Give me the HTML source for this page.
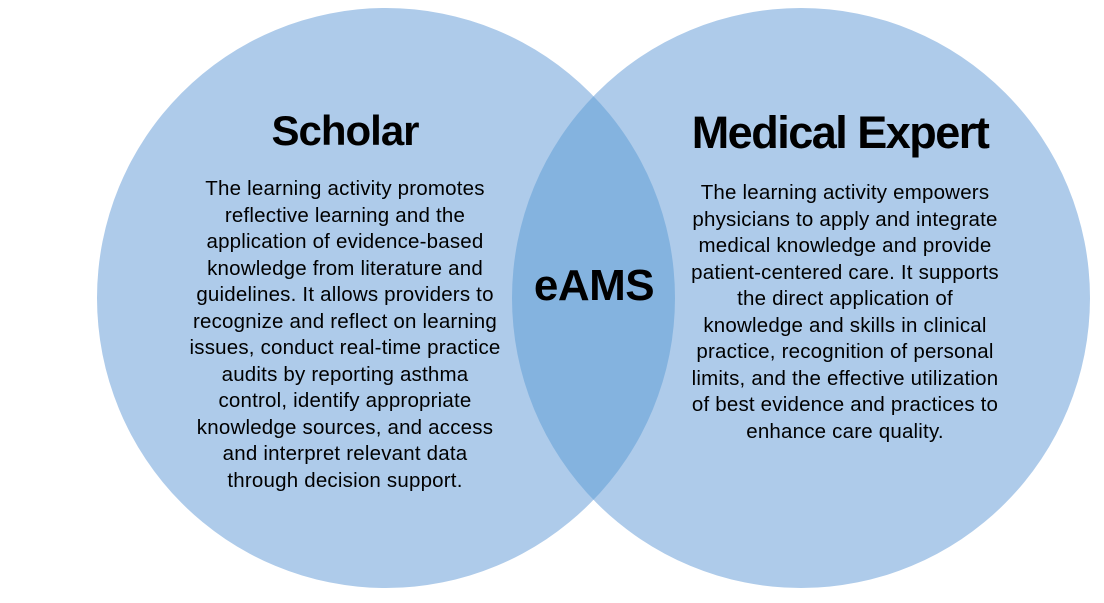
<!DOCTYPE html>
<html><head><meta charset="utf-8"><style>
body{margin:0;width:1104px;height:603px;background:#fff;overflow:hidden;position:relative;font-family:"Liberation Sans",sans-serif;}
.t{position:absolute;text-align:center;color:#000;white-space:nowrap;}
.h{font-weight:bold;line-height:1;}
.b{font-size:20.5px;line-height:26.5px;letter-spacing:0.2px;}
</style></head><body>
<svg width="1104" height="603" style="position:absolute;left:0;top:0">
<defs><clipPath id="c"><ellipse cx="386" cy="298" rx="289" ry="290"/></clipPath></defs>
<ellipse cx="386" cy="298" rx="289" ry="290" fill="#aecbea"/>
<ellipse cx="801" cy="298" rx="289" ry="290" fill="#aecbea"/>
<ellipse cx="801" cy="298" rx="289" ry="290" fill="#84b3df" clip-path="url(#c)"/>
</svg>
<div class="t h" style="left:192px;width:306px;top:110px;font-size:42px;letter-spacing:-1px">Scholar</div>
<div class="t h" style="left:620px;width:440px;top:110px;font-size:45px;letter-spacing:-1.5px">Medical Expert</div>
<div class="t h" style="left:494px;width:200px;top:264px;font-size:44px;letter-spacing:-0.5px">eAMS</div>
<div class="t b" style="left:145px;width:400px;top:176px">The learning activity promotes<br>reflective learning and the<br>application of evidence-based<br>knowledge from literature and<br>guidelines. It allows providers to<br>recognize and reflect on learning<br>issues, conduct real-time practice<br>audits by reporting asthma<br>control, identify appropriate<br>knowledge sources, and access<br>and interpret relevant data<br>through decision support.</div>
<div class="t b" style="left:645px;width:400px;top:180px">The learning activity empowers<br>physicians to apply and integrate<br>medical knowledge and provide<br>patient-centered care. It supports<br>the direct application of<br>knowledge and skills in clinical<br>practice, recognition of personal<br>limits, and the effective utilization<br>of best evidence and practices to<br>enhance care quality.</div>
</body></html>
